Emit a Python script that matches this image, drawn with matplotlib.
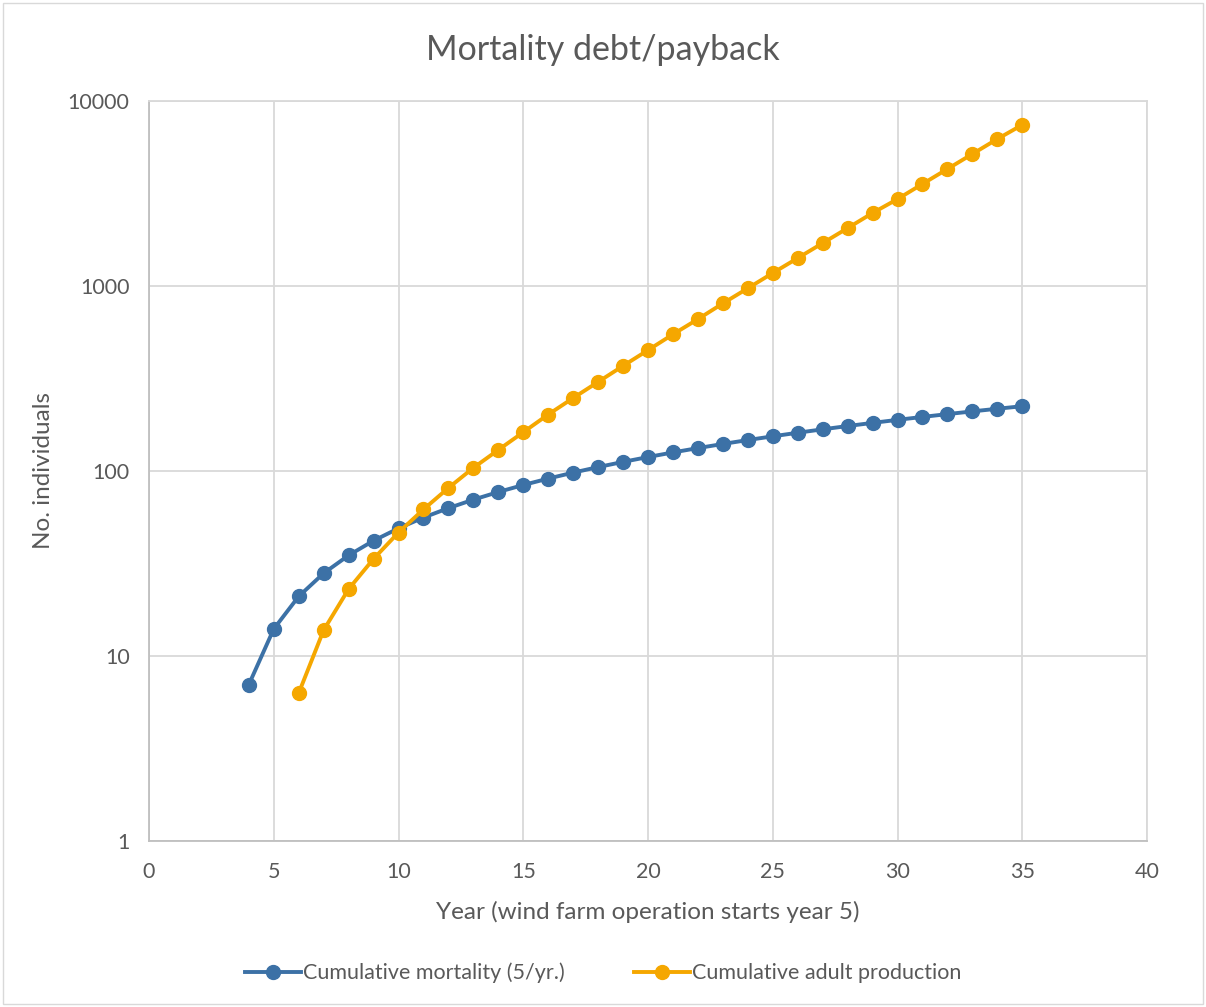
"""Mortality debt / payback chart: cumulative mortality vs cumulative adult
production on a log scale."""

import matplotlib
matplotlib.use("Agg")
import matplotlib.pyplot as plt
from matplotlib.patches import Rectangle
from matplotlib.ticker import FixedLocator, FuncFormatter, NullLocator

plt.rcParams["font.family"] = ["Lato", "DejaVu Sans"]

TEXT = "#595959"
GRID = "#d9d9d9"
BLUE = "#3c71a6"
ORANGE = "#f5a700"

# Cumulative mortality, years 4..35
mort_years = list(range(4, 36))
mort_values = [7, 14, 21, 28, 35, 42, 49, 56, 63, 70, 77, 84, 91, 98, 105,
               112, 119, 126, 133, 140, 147, 154, 161, 168, 175, 182, 189,
               196, 203, 210, 217, 224]

# Cumulative adult production, years 6..35
prod_years = list(range(6, 36))
prod_values = [6.3, 13.8, 23, 33.5, 46.5, 62, 81, 104, 130, 162, 202, 248,
               303, 370, 450, 548, 662, 805, 972, 1175, 1415, 1705, 2055,
               2480, 2950, 3560, 4290, 5170, 6230, 7430]

x_ticks = [0, 5, 10, 15, 20, 25, 30, 35, 40]
y_ticks = [1, 10, 100, 1000, 10000]

fig = plt.figure(figsize=(12.06, 10.07), dpi=100)
ax = fig.add_axes([149 / 1206, 1 - 841 / 1007, 998 / 1206, 740 / 1007])

ax.plot(mort_years, mort_values, color=BLUE, lw=2.8, marker="o", ms=10,
        label="Cumulative mortality (5/yr.)", zorder=3)
ax.plot(prod_years, prod_values, color=ORANGE, lw=2.8, marker="o", ms=10,
        label="Cumulative adult production", zorder=4)

ax.set_yscale("log")
ax.set_xlim(0, 40)
ax.set_ylim(1, 10000)
ax.xaxis.set_major_locator(FixedLocator(x_ticks))
ax.yaxis.set_major_locator(FixedLocator(y_ticks))
ax.yaxis.set_minor_locator(NullLocator())
ax.yaxis.set_major_formatter(FuncFormatter(lambda v, p: f"{v:g}"))
ax.tick_params(length=0, labelsize=15.5, colors=TEXT)
ax.tick_params(axis="x", pad=15)
ax.tick_params(axis="y", pad=14)
ax.grid(True, color=GRID, lw=1.3)
ax.set_axisbelow(True)
for side in ["top", "right"]:
    ax.spines[side].set_color(GRID)
    ax.spines[side].set_linewidth(1.3)
for side in ["left", "bottom"]:
    ax.spines[side].set_color("#bfbfbf")
    ax.spines[side].set_linewidth(1.3)

ax.set_xlabel("Year (wind farm operation starts year 5)", fontsize=17.5,
              color=TEXT, labelpad=14)
ax.set_ylabel("No. individuals", fontsize=17.5, color=TEXT, labelpad=10)
fig.text(0.5, 1 - 50 / 1007, "Mortality debt/payback", ha="center",
         va="center", fontsize=24.5, color=TEXT)

fig.legend(loc="center", bbox_to_anchor=(0.5, 1 - 973 / 1007), ncol=2,
           frameon=False, fontsize=15.5, labelcolor=TEXT, handlelength=2.6,
           columnspacing=3.2, handletextpad=0.1)

fig.patches.append(Rectangle((3 / 1206, 3 / 1007), 1200 / 1206, 1001 / 1007,
                             transform=fig.transFigure, fill=False,
                             edgecolor="#d9d9d9", lw=1))

fig.savefig("out.png", dpi=100)
